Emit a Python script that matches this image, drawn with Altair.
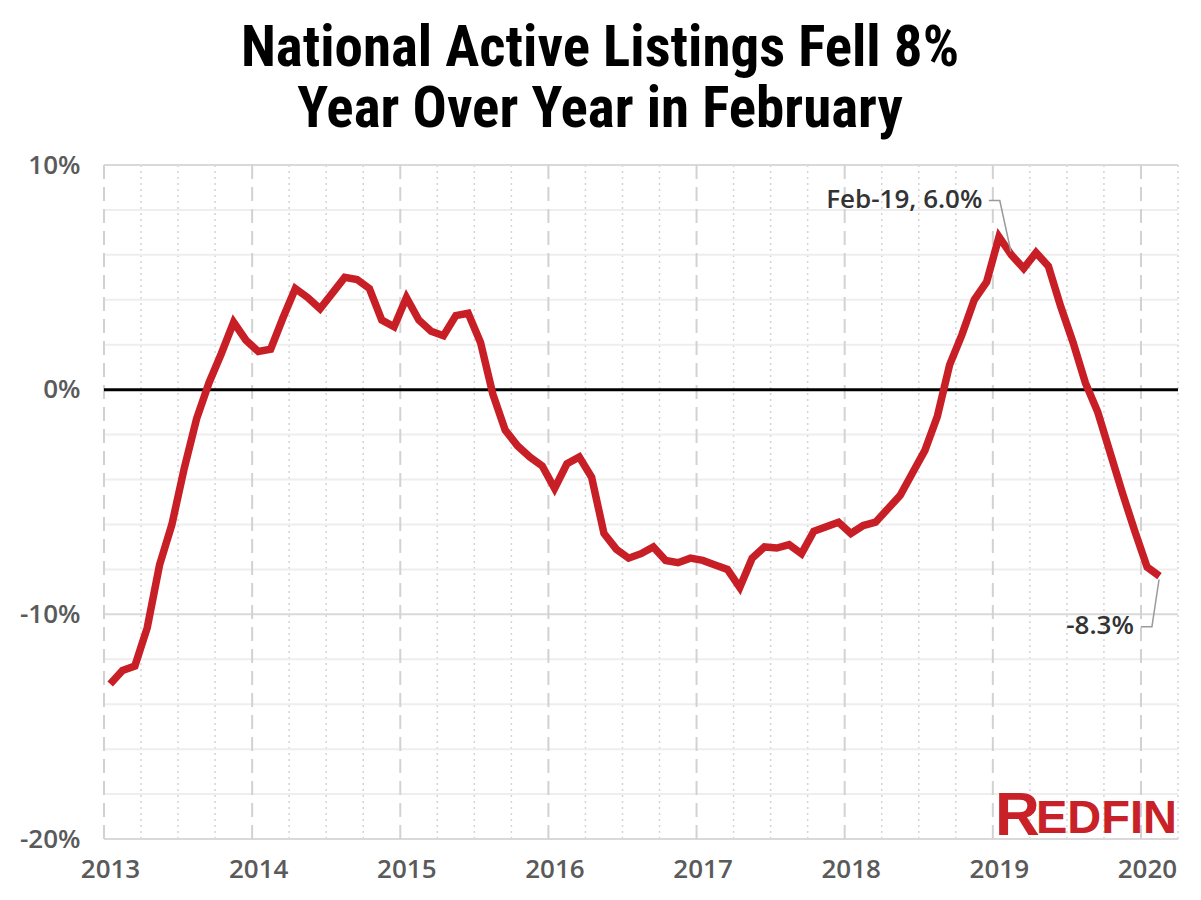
import altair as alt
import pandas as pd

# ---------------- data ----------------
TITLE_LINES = ["National Active Listings Fell 8%", "Year Over Year in February"]
YEARS = [2013, 2014, 2015, 2016, 2017, 2018, 2019, 2020]
Y_TICKS = [-20, -10, 0, 10]
Y_GRID_MINOR = [-18, -16, -14, -12, -8, -6, -4, -2, 2, 4, 6, 8]
Y_GRID_MAJOR = [-20, -10, 10]
FIRST_MONTH = "2013-01"
LAST_MONTH = "2020-02"

# year-over-year change in active listings (%), monthly Jan 2013 .. Feb 2020
YOY = [
    -13.1, -12.5, -12.3, -10.6, -7.8, -6.0, -3.5, -1.3, 0.3, 1.6, 3.0, 2.2,   # 2013
    1.7, 1.8, 3.2, 4.5, 4.1, 3.6, 4.3, 5.0, 4.9, 4.5, 3.1, 2.8,               # 2014
    4.1, 3.1, 2.6, 2.4, 3.3, 3.4, 2.1, -0.2, -1.8, -2.5, -3.0, -3.4,          # 2015
    -4.4, -3.3, -3.0, -3.9, -6.4, -7.1, -7.5, -7.3, -7.0, -7.6, -7.7, -7.5,   # 2016
    -7.6, -7.8, -8.0, -8.8, -7.5, -7.0, -7.05, -6.9, -7.3, -6.3, -6.1, -5.9,  # 2017
    -6.4, -6.05, -5.9, -5.3, -4.7, -3.7, -2.7, -1.2, 1.1, 2.45, 4.0, 4.8,     # 2018
    6.8, 6.0, 5.4, 6.1, 5.5, 3.7, 2.1, 0.3, -1.0, -2.8, -4.6, -6.3,           # 2019
    -7.9, -8.3,                                                               # 2020
]

# annotation label anchors (in data units) and their leader lines
ANNOT_TEXT = ["Feb-19, 6.0%", "-8.3%"]
ANNOT_T = [2018.93, 2019.952]
ANNOT_V = [8.42, -10.5]
LEADER_GROUP = ["a", "a", "a", "b", "b", "b"]
LEADER_T = [2018.973, 2019.047, 2019.122, 2020.0, 2020.074, 2020.122]
LEADER_V = [8.42, 8.42, 6.15, -10.55, -10.55, -8.45]
LEADER_ORDER = [0, 1, 2, 0, 1, 2]

# ---------------- frames ----------------
months = pd.period_range(FIRST_MONTH, LAST_MONTH, freq="M")
df = pd.DataFrame({
    "t": [p.year + (p.month - 0.5) / 12 for p in months],
    "v": YOY,
})
quarters = pd.DataFrame({"t": [y + q / 4 for y in YEARS for q in (1, 2, 3) if y + q / 4 <= 2020.25]})
years_df = pd.DataFrame({"t": YEARS})
hminor = pd.DataFrame({"v": Y_GRID_MINOR})
hmajor = pd.DataFrame({"v": Y_GRID_MAJOR})
zero_df = pd.DataFrame({"v": [0]})
ann_df = pd.DataFrame({"t": ANNOT_T, "v": ANNOT_V, "text": ANNOT_TEXT})
lead_df = pd.DataFrame({"g": LEADER_GROUP, "t": LEADER_T, "v": LEADER_V, "o": LEADER_ORDER})
one = pd.DataFrame({"k": [0]})

W, H = 1074, 674
xs = alt.Scale(domain=[2013, 2020.25], nice=False, zero=False)
ys = alt.Scale(domain=[-20, 10], nice=False, zero=False)

AX_FONT = "Open Sans"
AX_COLOR = "#5a5a5a"

XAXIS = alt.Axis(
    values=YEARS, format="d", grid=False, domain=False, ticks=False, title=None,
    labelFont=AX_FONT, labelFontSize=26, labelFontWeight=600, labelColor=AX_COLOR,
    labelPadding=17, labelOffset=6, labelFlush=False)
YAXIS = alt.Axis(
    values=Y_TICKS, labelExpr="datum.value + '%'", grid=False, domain=False, ticks=False,
    title=None, labelFont=AX_FONT, labelFontSize=26, labelFontWeight=600, labelColor=AX_COLOR,
    labelPadding=24)


def X(field="t"):
    return alt.X(f"{field}:Q", scale=xs, axis=XAXIS, title=None)


def Y(field="v"):
    return alt.Y(f"{field}:Q", scale=ys, axis=YAXIS, title=None)


q_rules = alt.Chart(quarters).mark_rule(color="#d4d4d4", strokeWidth=1.5, strokeDash=[2, 4]).encode(
    x=X(), y=alt.value(0), y2=alt.value(H))
h_minor = alt.Chart(hminor).mark_rule(color="#eeeeee", strokeWidth=2).encode(
    y=Y(), x=alt.value(0), x2=alt.value(W))
h_major = alt.Chart(hmajor).mark_rule(color="#d9d9d9", strokeWidth=2).encode(
    y=Y(), x=alt.value(0), x2=alt.value(W))
y_rules = alt.Chart(years_df).mark_rule(color="#d2d2d2", strokeWidth=2, strokeDash=[14, 8]).encode(
    x=X(), y=alt.value(0), y2=alt.value(H))
zero = alt.Chart(zero_df).mark_rule(color="#000000", strokeWidth=3).encode(
    y=Y(), x=alt.value(0), x2=alt.value(W))

line = alt.Chart(df).mark_line(color="#C81F27", strokeWidth=7.5).encode(x=X(), y=Y())

leaders = alt.Chart(lead_df).mark_line(color="#9a9a9a", strokeWidth=1.5).encode(
    x=X(), y=Y(), detail="g:N", order="o:Q")
ann = alt.Chart(ann_df).mark_text(align="right", baseline="middle", font=AX_FONT,
                                  fontSize=26, fontWeight=600, color="#333333").encode(
    x=X(), y=Y(), text="text:N")

title = alt.Chart(one).mark_text(
    align="center", baseline="alphabetic", font="Liberation Sans Narrow, Roboto Condensed, Roboto",
    fontSize=57, fontWeight="bold", color="#000000", lineBreak="\n", lineHeight=61).encode(
    x=alt.value(496), y=alt.value(-99), text=alt.value("\n".join(TITLE_LINES)))

logo_r = alt.Chart(one).mark_text(align="left", baseline="alphabetic", font="Liberation Sans",
                                  fontSize=62, fontWeight="bold", color="#C82127").encode(
    x=alt.value(891), y=alt.value(670), text=alt.value("R"))
logo_rest = alt.Chart(one).mark_text(align="left", baseline="alphabetic", font="Liberation Sans",
                                     fontSize=47, fontWeight="bold", color="#C82127").encode(
    x=alt.value(932), y=alt.value(668), text=alt.value("EDFIN"))

chart = alt.layer(
    q_rules, h_minor, h_major, y_rules, zero, line, leaders, ann, title, logo_r, logo_rest
).properties(
    width=W, height=H,
    autosize=alt.AutoSizeParams(type="none"),
    padding={"left": 104, "top": 165, "right": 23, "bottom": 61},
    background="white",
).configure_view(stroke=None)

chart.save("out.html", embed_options={"renderer": "svg", "actions": False})
